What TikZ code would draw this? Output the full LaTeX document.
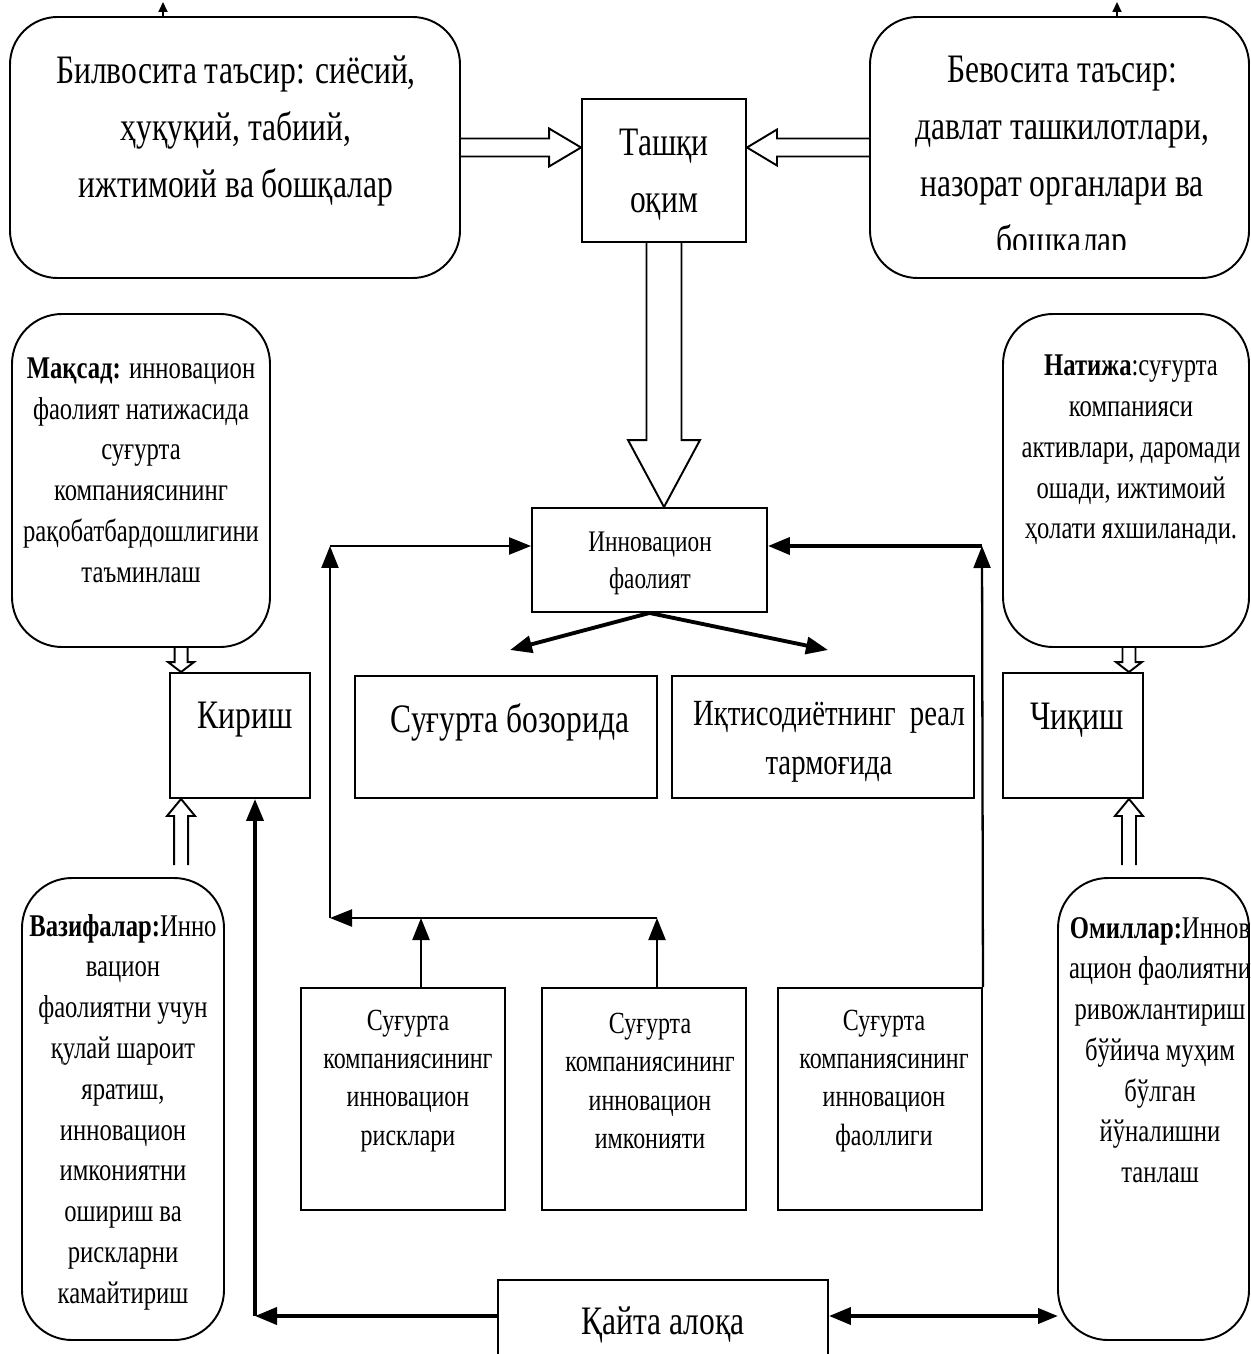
\documentclass[tikz,border=0pt]{standalone}
\usepackage{fontspec}
\setmainfont{Liberation Serif}[FakeStretch=0.78]
\usetikzlibrary{calc,fit,arrows.meta}
\tikzset{
  box/.style={draw, line width=1.1pt, inner sep=0pt},
  rbox/.style={box, rounded corners=0.95cm},
  txt/.style={inner sep=0pt, align=center},
  fbig/.style={font=\fontsize{23}{32.3}\selectfont},
  fmid/.style={font=\fontsize{21}{27.8}\selectfont},
  fsmall/.style={font=\fontsize{18}{23.2}\selectfont},
  fsm/.style={font=\fontsize{17.5}{21.7}\selectfont},
  finn/.style={font=\fontsize{17}{21}\selectfont},
  tip/.style={-{Triangle[length=0.44cm,width=0.34cm]}},
  arr/.style={line width=1.3pt, tip},
  arrthick/.style={line width=2.2pt, tip},
  hollow/.style={line width=1.1pt, line join=miter},
  stub/.style={line width=1pt, -{Triangle[length=0.2cm,width=0.18cm]}}
}
% start, tip, shaft half width, head half width, head length
\newcommand\hollowarrow[5]{%
  \coordinate (hab) at ($(#2)!#5!(#1)$);
  \draw[hollow] ($(#1)!#3!90:(#2)$) -- ($(hab)!#3!90:(#2)$) -- ($(hab)!#4!90:(#2)$)
    -- (#2) -- ($(hab)!#4!-90:(#2)$) -- ($(hab)!#3!-90:(#2)$) -- ($(#1)!#3!-90:(#2)$);
}
\begin{document}
\begin{tikzpicture}[x=0.02cm,y=-0.02cm]
\clip (0,0) rectangle (1250,1354);
\fill[white] (0,0) rectangle (1250,1354);

% ---- boxes ----
\node[rbox, fit={(10,17) (460,278)}] (bil) {};
\node[rbox, fit={(870,17) (1249,278)}] (bev) {};
\node[box, fit={(582,99) (746,242)}] (tash) {};
\node[box, fit={(532,508) (767,612)}] (inn) {};
\node[box, fit={(355,676) (657,798)}] (boz) {};
\node[box, fit={(672,676) (974,798)}] (iqt) {};
\node[rbox, rounded corners=1cm, fit={(12,314) (270,647)}] (maq) {};
\node[rbox, rounded corners=1cm, fit={(1003,314) (1249,647)}] (nat) {};
\node[box, fit={(170,673) (310,798)}] (kir) {};
\node[box, fit={(1003,673) (1143,798)}] (chq) {};
\node[rbox, rounded corners=1cm, fit={(22,878) (224,1340)}] (vaz) {};
\node[rbox, rounded corners=1cm, fit={(1058,878) (1249,1340)}] (omi) {};
\node[box, fit={(301,988) (505,1210)}] (ris) {};
\node[box, fit={(542,988) (746,1210)}] (imk) {};
\node[box, fit={(778,988) (982,1210)}] (fao) {};
\node[box, fit={(498,1280) (828,1390)}] (kai) {};

% ---- texts ----
\node[txt, fbig] (t-bil) at (236,131) {Билвосита таъсир: сиёсий,\\ҳуқуқий, табиий,\\ижтимоий ва бошқалар};
\begin{scope}
\clip (870,17) rectangle (1250,250);
\node[txt, fbig] (t-bev) at (1062,159) {Бевосита таъсир:\\давлат ташкилотлари,\\назорат органлари ва\\бошқалар};
\end{scope}
\node[txt, fbig] (t-tash) at (664,175) {Ташқи\\оқим};
\node[txt, finn] (t-inn) at (650,563) {Инновацион\\фаолият};
\node[txt, fbig] (t-boz) at (510,722) {Суғурта бозорида};
\node[txt, fmid] (t-iqt) at (829,742) {Иқтисодиётнинг\ \ реал\\тармоғида};
\node[txt, fsmall] (t-maq) at (141,470) {\textbf{Мақсад:} инновацион\\фаолият натижасида\\суғурта\\компаниясининг\\рақобатбардошлигини\\таъминлаш};
\node[txt, fsmall] (t-nat) at (1131,450) {\textbf{Натижа}:суғурта\\компанияси\\активлари, даромади\\ошади, ижтимоий\\ҳолати яхшиланади.};
\node[txt, fbig] (t-kir) at (245,720) {Кириш};
\node[txt, fbig] (t-chq) at (1077,720) {Чиқиш};
\node[txt, fsmall] (t-vaz) at (123,1112) {\textbf{Вазифалар:}Инно\\вацион\\фаолиятни учун\\қулай шароит\\яратиш,\\инновацион\\имкониятни\\ошириш ва\\рискларни\\камайтириш};
\node[txt, fsmall] (t-omi) at (1160,1050) {\textbf{Омиллар:}Иннов\\ацион фаолиятни\\ривожлантириш\\бўйича муҳим\\бўлган\\йўналишни\\танлаш};
\node[txt, fsm] (t-ris) at (408,1081) {Суғурта\\компаниясининг\\инновацион\\рисклари};
\node[txt, fsm] (t-imk) at (650,1081) {Суғурта\\компаниясининг\\инновацион\\имконияти};
\node[txt, fsm] (t-fao) at (884,1081) {Суғурта\\компаниясининг\\инновацион\\фаоллиги};
\node[txt, fbig] (t-kai) at (663,1325) {Қайта алоқа};

% ---- hollow arrows ----
\coordinate (a1t) at (tash.west |- bil.east);
\hollowarrow{bil.east}{a1t}{0.18cm}{0.38cm}{0.64cm}
\coordinate (a2t) at (tash.east |- bev.west);
\hollowarrow{bev.west}{a2t}{0.18cm}{0.36cm}{0.6cm}
\coordinate (a3t) at (tash.south |- inn.north);
\hollowarrow{tash.south}{a3t}{0.35cm}{0.72cm}{1.34cm}
\coordinate (a4t) at ($(kir.north west)+(12,0)$);
\coordinate (a4s) at (a4t |- maq.south);
\hollowarrow{a4s}{a4t}{0.13cm}{0.26cm}{0.2cm}
\coordinate (a5t) at ($(kir.south west)+(12,0)$);
\coordinate (a5s) at ($(a5t |- vaz.north)+(0,-12)$);
\hollowarrow{a5s}{a5t}{0.14cm}{0.28cm}{0.34cm}
\coordinate (a6t) at ($(chq.north east)+(-15,0)$);
\coordinate (a6s) at (a6t |- nat.south);
\hollowarrow{a6s}{a6t}{0.13cm}{0.26cm}{0.2cm}
\coordinate (a7t) at ($(chq.south east)+(-15,0)$);
\coordinate (a7s) at ($(a7t |- omi.north)+(0,-12)$);
\hollowarrow{a7s}{a7t}{0.14cm}{0.28cm}{0.34cm}

% ---- solid arrows ----
\coordinate (d1) at (510,650);
\coordinate (d2) at (828,650);
\draw[arrthick] (inn.south) -- (d1);
\draw[arrthick] (inn.south) -- (d2);

\coordinate (lpA) at (330,918);
\coordinate (lpB) at (330,546);
\coordinate (rpB) at (982,546);
\coordinate (r1) at ($(ris.north)+(18,0)$);
\coordinate (i1) at ($(imk.north)+(13,0)$);
\draw[arr] (r1) -- (r1 |- lpA);
\draw[arr] (i1) -- (i1 |- lpA);
\draw[arr] (i1 |- lpA) -- (lpA);
\draw[arr] (lpA) -- (lpB);
\draw[arr] (lpB) -- (inn.west |- lpB);
\draw[arr] (fao.north east) -- (rpB);
\draw[arrthick] (rpB) -- (inn.east |- rpB);

\coordinate (fbL) at (255,1316);
\coordinate (fbR) at (1058,1316);
\draw[arrthick] (kai.west |- fbL) -- (fbL);
\draw[arrthick] (fbL) -- (fbL |- kir.south);
\draw[line width=2.2pt, {Triangle[length=0.44cm,width=0.34cm]}-{Triangle[length=0.4cm,width=0.3cm]}] (kai.east |- fbR) -- (fbR);

% ---- stubs at the top edge ----
\coordinate (s1) at (163,2);
\coordinate (s2) at (1117,2);
\draw[stub] (s1 |- bil.north) -- (s1);
\draw[stub] (s2 |- bev.north) -- (s2);
\end{tikzpicture}
\end{document}
